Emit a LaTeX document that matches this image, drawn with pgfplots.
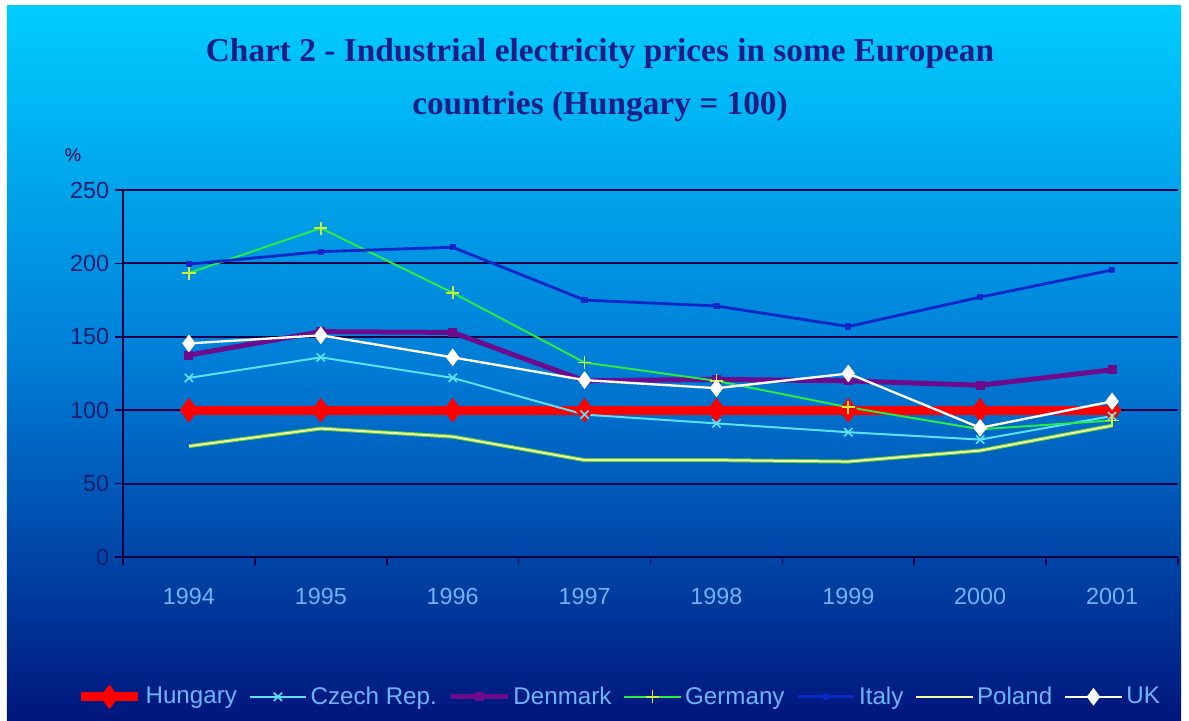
\documentclass[border=0pt]{standalone}
\usepackage{fontspec}
\setmainfont{Liberation Sans}
\newfontfamily\titlefont{Liberation Serif}
\usepackage{pgfplots}
\pgfplotsset{compat=1.18}
\usetikzlibrary{calc}
\pgfdeclarelayer{bg}
\pgfsetlayers{bg,main}

\definecolor{bgtop}{RGB}{0,205,255}
\definecolor{bgmid}{RGB}{0,125,215}
\definecolor{bgbot}{RGB}{0,22,125}
\definecolor{titleblue}{RGB}{28,28,135}
\definecolor{axnavy}{RGB}{0,0,70}
\definecolor{ylab}{RGB}{20,30,110}
\definecolor{xlab}{RGB}{110,180,255}
\definecolor{hungary}{RGB}{255,0,0}
\definecolor{czech}{RGB}{90,225,255}
\definecolor{denmark}{RGB}{110,10,140}
\definecolor{germany}{RGB}{40,235,70}
\definecolor{italy}{RGB}{10,40,200}
\definecolor{poland}{RGB}{240,255,160}
\definecolor{polandedge}{RGB}{90,200,60}

\begin{document}
\begin{tikzpicture}
\begin{axis}[
  name=ax,
  scale only axis, width=633pt, height=220.2pt,
  xmin=-0.5, xmax=7.5, ymin=0, ymax=250,
  axis lines*=left,
  axis line style={-, draw=axnavy, line width=1.2pt},
  ytick={0,50,...,250},
  ymajorgrids,
  major grid style={draw=axnavy, line width=1.1pt},
  tick align=outside,
  major tick length=4.8pt,
  tick style={draw=axnavy, line width=1pt},
  xtick={-0.5,0.5,...,7.5},
  xticklabels={},
  extra x ticks={0,1,2,3,4,5,6,7},
  extra x tick labels={1994,1995,1996,1997,1998,1999,2000,2001},
  extra x tick style={major tick length=0pt, xticklabel style={yshift=-15pt}},
  xticklabel style={text=xlab, font=\fontsize{14}{16}\selectfont},
  yticklabel style={text=ylab, font=\fontsize{14}{16}\selectfont},
  /pgf/number format/assume math mode=true,
  legend columns=7,
  legend cell align=left,
  legend style={at={(0.471,-0.381)}, anchor=center, draw=none, fill=none,
    font=\fontsize{14.5}{16}\selectfont, text=xlab,
    /tikz/every even column/.append style={column sep=5pt}},
  legend image code/.code={\draw[mark repeat=2,mark phase=2] plot coordinates {(0pt,0pt) (17pt,0pt) (34pt,0pt)};},
]
\addplot[hungary, line width=5.4pt, mark=diamond*, mark size=7pt, mark options={solid, fill=hungary, line width=0.5pt}]
  coordinates {(0,100) (1,100) (2,100) (3,100) (4,100) (5,100) (6,100) (7,100)};
\addplot[czech, line width=1.2pt, mark=x, mark size=3.5pt, mark options={line width=1pt}]
  coordinates {(0,122) (1,136) (2,122) (3,97) (4,91) (5,85) (6,80) (7,96)};
\addplot[denmark, line width=3pt, mark=square*, mark size=1.2pt]
  coordinates {(0,137.5) (1,153.5) (2,153) (3,120) (4,121) (5,120) (6,117) (7,127.5)};
\addplot[germany, line width=1.2pt, mark=+, mark size=4pt, mark options={line width=1pt, draw={rgb,255:red,200;green,240;blue,60}}]
  coordinates {(0,193.5) (1,224) (2,180) (3,132.5) (4,120) (5,102) (6,87) (7,93)};
\addplot[italy, line width=1.7pt, mark=square*, mark size=1pt]
  coordinates {(0,199.5) (1,208) (2,211) (3,175) (4,171) (5,157) (6,177) (7,195.5)};
\addplot[polandedge, line width=2.4pt, mark=none, forget plot]
  coordinates {(0,75.5) (1,87.5) (2,82) (3,66) (4,66) (5,65) (6,72.5) (7,89.5)};
\addplot[poland, line width=1.2pt, mark=none]
  coordinates {(0,75.5) (1,87.5) (2,82) (3,66) (4,66) (5,65) (6,72.5) (7,89.5)};
\addplot[white, line width=1.4pt, mark=diamond*, mark size=4.2pt, mark options={fill=white}]
  coordinates {(0,145.5) (1,151) (2,136) (3,120.5) (4,115) (5,125) (6,88) (7,106)};
\legend{Hungary, Czech Rep., Denmark, Germany, Italy, Poland, UK}
\coordinate (O) at (rel axis cs:0,0);
\end{axis}
% page frame in reference pixels (1px = 0.6pt), origin at the axis corner (123,557)
\begin{scope}[shift={(O)}, x=0.6pt, y=0.6pt]
\begin{pgfonlayer}{bg}
\fill[white] (-123,-163) rectangle (1066,557);
\shade[top color=bgtop, bottom color=bgbot, middle color=bgmid] (-116,-163) rectangle (1058,551);
\end{pgfonlayer}
\node[font=\titlefont\bfseries\fontsize{20}{24}\selectfont, text=titleblue, align=center]
  at (477,477) {Chart 2 - Industrial electricity prices in some European\\[8pt] countries (Hungary = 100)};
\node[font=\fontsize{11}{12}\selectfont, text=axnavy] at (-50,402) {\%};
\end{scope}
\end{tikzpicture}
\end{document}
